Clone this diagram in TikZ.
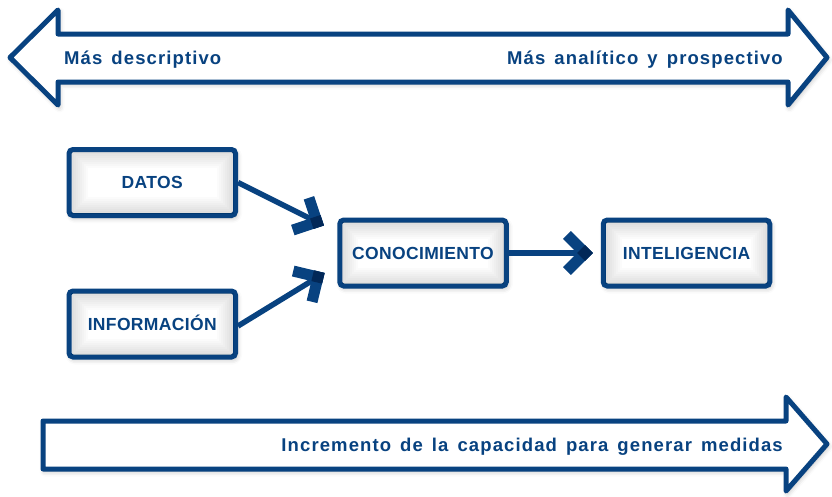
\documentclass[tikz,border=0pt]{standalone}
\usepackage{fontspec}
\setmainfont{Liberation Sans}
\newfontfamily\lblfont[LetterSpace=6,WordSpace=1.45]{Liberation Sans}
\newfontfamily\boxfont[LetterSpace=2]{Liberation Sans}
\usetikzlibrary{calc,shadows.blur}
\definecolor{navy}{RGB}{8,66,128}
\definecolor{navydark}{RGB}{2,40,88}
\newcommand\chevron[2]{%
  \draw[shaft] (#1) -- (#2);
  \coordinate (#2-a) at ($(#2)!20pt!45:(#1)$);
  \coordinate (#2-b) at ($(#2)!20pt!-45:(#1)$);
  \draw[barb] (#2) -- (#2-a);
  \draw[barb] (#2) -- (#2-b);
  \draw[navydark, line width=11pt] ($(#2)!5.5pt!(#2-a)$) -- ($(#2)!-5.5pt!(#2-a)$);
}
\newcommand\innerglow[1]{%
  \begin{scope}
    \clip ($(#1.north west)+(5,5)$) rectangle ($(#1.south east)-(5,5)$);
    \foreach \k in {1,...,8}{%
      \draw[black, opacity=0.014, line width=4*\k pt]
        ($(#1.north west)+(5,5)$) rectangle ($(#1.south east)-(5,5)$);
    }%
  \end{scope}%
}
\begin{document}
\begin{tikzpicture}[x=1pt,y=-1pt,
  softshadow/.style={blur shadow={shadow xshift=1.5pt, shadow yshift=-2.5pt, shadow blur radius=5pt, shadow opacity=28}},
  bigarrow/.style={draw=navy, line width=5pt, fill=white, line join=round, softshadow},
  box/.style={draw=navy, line width=5pt, fill=white, rounded corners=4pt,
    minimum width=166.5pt, minimum height=66pt, inner sep=0pt, softshadow},
  boxtext/.style={inner sep=0pt, text height=12.5pt, text depth=0pt, text=navy,
    font=\boxfont\bfseries\fontsize{17.5}{20}\selectfont},
  lbl/.style={text=navy, inner sep=0pt, font=\lblfont\bfseries\fontsize{18.5}{22}\selectfont},
  shaft/.style={draw=navy, line width=5.5pt},
  barb/.style={draw=navy, line width=11pt, line cap=rect},
]
\useasboundingbox (0,0) rectangle (832,496);
% top double arrow
\draw[bigarrow] (10,57.5) -- (58,10) -- (58,34) -- (788,34) -- (788,10) -- (827,57.5)
  -- (788,105) -- (788,82) -- (58,82) -- (58,105) -- cycle;
\node[lbl, anchor=base west] (l1) at (64,64) {Más descriptivo};
\node[lbl, anchor=base east] (l2) at (783,64) {Más analítico y prospectivo};
% bottom arrow
\draw[bigarrow] (43,421) -- (786,421) -- (786,397) -- (827,444) -- (786,491)
  -- (786,469) -- (43,469) -- cycle;
\node[lbl, anchor=base east] (l3) at (783,451) {Incremento de la capacidad para generar medidas};
% boxes
\node[box] (d) at (152.25,182.5) {};
\node[box] (i) at (152.25,324) {};
\node[box] (c) at (423,253) {};
\node[box] (g) at (686.5,253) {};
\innerglow{d}\innerglow{i}\innerglow{c}\innerglow{g}
\node[boxtext] (dt) at (d) {DATOS};
\node[boxtext] (it) at (i) {INFORMACIÓN};
\node[boxtext] (ct) at (c) {CONOCIMIENTO};
\node[boxtext] (gt) at (g) {INTELIGENCIA};
% connectors
\coordinate (s1) at (d.east);
\coordinate (s2) at ([yshift=-2pt]i.east);
\coordinate (s3) at (c.east);
\coordinate (t1) at (317,222);
\coordinate (t2) at (318,277);
\coordinate (t3) at (585,253);
\chevron{s1}{t1}
\chevron{s2}{t2}
\chevron{s3}{t3}
\end{tikzpicture}
\end{document}
